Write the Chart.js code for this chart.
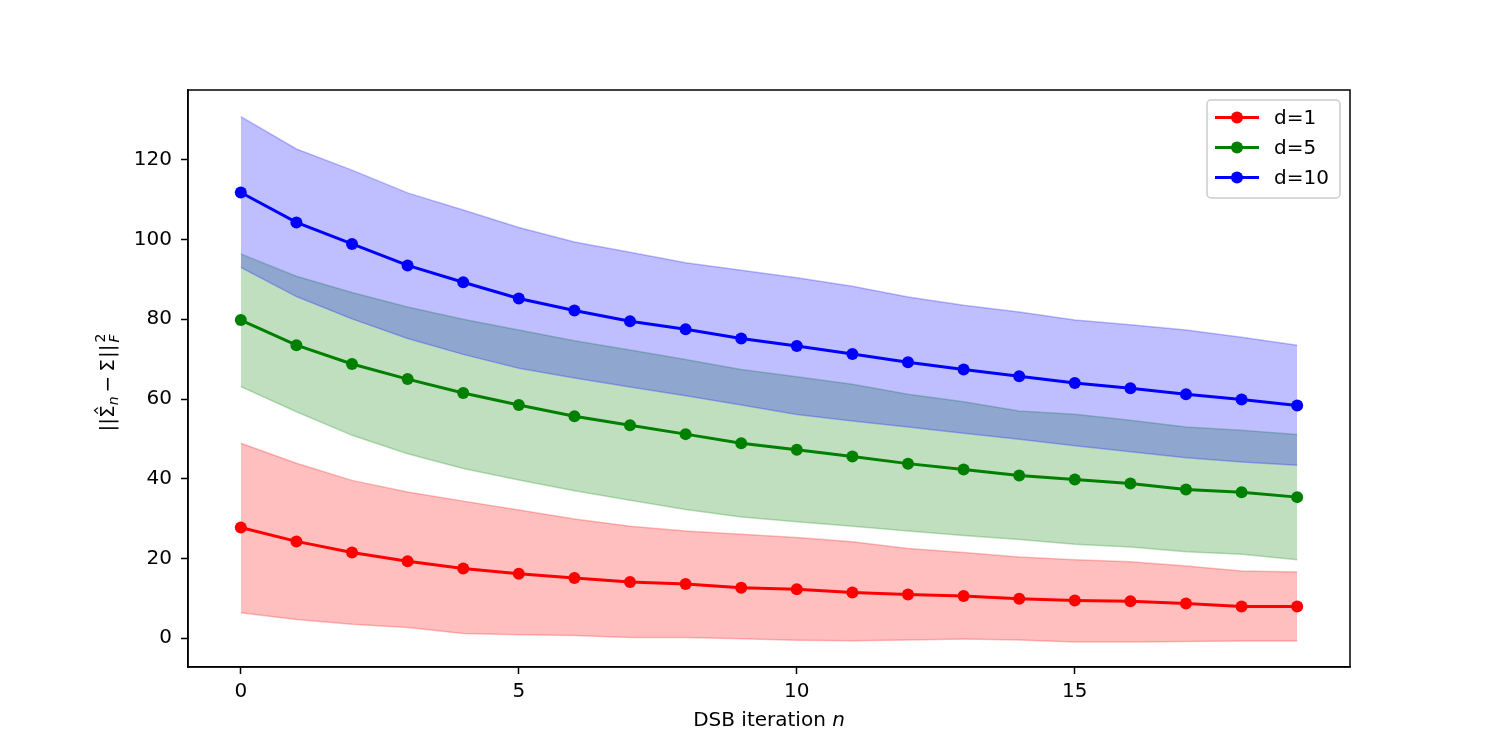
<!DOCTYPE html>
<html lang="en">
<head>
  <meta charset="UTF-8">
  <title>DSB covariance error</title>
  <script src="https://cdn.jsdelivr.net/npm/chart.js"></script>
  <style>
    html, body { margin: 0; padding: 0; background: #fff; }
    #chart { display: block; }
  </style>
</head>
<body>
  <canvas id="chart" width="1500" height="750"></canvas>

  <script>
    // x positions (DSB iterations)
    const iterations = [0, 1, 2, 3, 4, 5, 6, 7, 8, 9, 10, 11, 12, 13, 14, 15, 16, 17, 18, 19];

    // d = 1
    const meanD1  = [27.8, 24.3, 21.5, 19.3, 17.5, 16.2, 15.1, 14.1, 13.6, 12.7, 12.3, 11.5, 11.0, 10.6, 9.9, 9.5, 9.3, 8.7, 8.0, 8.0];
    const upperD1 = [48.9, 43.9, 39.6, 36.7, 34.4, 32.2, 29.9, 28.1, 26.9, 26.1, 25.3, 24.2, 22.5, 21.5, 20.4, 19.7, 19.2, 18.1, 16.9, 16.6];
    const lowerD1 = [6.4, 4.7, 3.5, 2.7, 1.2, 0.9, 0.7, 0.2, 0.2, -0.1, -0.5, -0.6, -0.4, -0.2, -0.4, -0.9, -0.9, -0.8, -0.7, -0.7];

    // d = 5
    const meanD5  = [79.8, 73.5, 68.8, 65.0, 61.5, 58.5, 55.7, 53.4, 51.2, 48.9, 47.3, 45.6, 43.8, 42.3, 40.8, 39.8, 38.8, 37.3, 36.6, 35.4];
    const upperD5 = [96.4, 90.8, 86.7, 83.1, 80.0, 77.3, 74.6, 72.3, 69.9, 67.4, 65.6, 63.7, 61.2, 59.3, 57.0, 56.2, 54.7, 53.0, 52.2, 51.1];
    const lowerD5 = [63.1, 56.8, 50.9, 46.3, 42.6, 39.7, 37.0, 34.6, 32.3, 30.4, 29.2, 28.1, 26.9, 25.8, 24.8, 23.6, 22.9, 21.7, 21.1, 19.7];

    // d = 10
    const meanD10  = [111.8, 104.3, 98.9, 93.5, 89.3, 85.2, 82.2, 79.5, 77.5, 75.2, 73.3, 71.3, 69.2, 67.4, 65.7, 64.0, 62.7, 61.2, 59.9, 58.4];
    const upperD10 = [130.8, 122.7, 117.4, 111.7, 107.4, 103.0, 99.4, 96.8, 94.2, 92.3, 90.4, 88.3, 85.6, 83.5, 81.8, 79.8, 78.6, 77.3, 75.5, 73.5];
    const lowerD10 = [93.0, 85.7, 80.1, 75.2, 71.2, 67.7, 65.3, 63.0, 60.8, 58.5, 56.1, 54.5, 53.0, 51.4, 49.9, 48.3, 46.8, 45.3, 44.2, 43.4];

    const seriesLabels = ['d=1', 'd=5', 'd=10'];
    const xTickValues = [0, 5, 10, 15];
    const yTickValues = [0, 20, 40, 60, 80, 100, 120];

    const FONT = 'DejaVu Sans';
    const colors = { red: '#ff0000', green: '#008000', blue: '#0000ff' };
    const bandFill = { red: 'rgba(255,0,0,0.25)', green: 'rgba(0,128,0,0.25)', blue: 'rgba(0,0,255,0.25)' };

    const pts = ys => iterations.map((x, i) => ({ x: x, y: ys[i] }));

    function lineSet(label, ys, c) {
      return {
        label: label, data: pts(ys), isSeries: true,
        borderColor: c, backgroundColor: c, borderWidth: 3,
        pointRadius: 6, pointBackgroundColor: c, pointBorderWidth: 0,
        fill: false, tension: 0
      };
    }
    function bandSet(ys, fillColor, toNext) {
      return {
        label: '', data: pts(ys),
        borderColor: fillColor, borderWidth: 1.5, backgroundColor: fillColor,
        pointRadius: 0, fill: toNext ? '+1' : false, tension: 0
      };
    }

    // lower index is painted later (on top), so blue band goes over green band
    const datasets = [
      lineSet(seriesLabels[2], meanD10, colors.blue),
      bandSet(upperD10, bandFill.blue, true),
      bandSet(lowerD10, bandFill.blue, false),
      lineSet(seriesLabels[1], meanD5, colors.green),
      bandSet(upperD5, bandFill.green, true),
      bandSet(lowerD5, bandFill.green, false),
      lineSet(seriesLabels[0], meanD1, colors.red),
      bandSet(upperD1, bandFill.red, true),
      bandSet(lowerD1, bandFill.red, false)
    ];

    // top and right spines
    const framePlugin = {
      id: 'frame',
      afterDraw(chart) {
        const { ctx, chartArea: a } = chart;
        ctx.save();
        ctx.strokeStyle = '#000';
        ctx.lineWidth = 1.5;
        ctx.strokeRect(a.left, a.top, a.right - a.left, a.bottom - a.top);
        ctx.restore();
      }
    };

    // axis titles with math-style pieces
    const labelsPlugin = {
      id: 'axisLabels',
      afterDraw(chart) {
        const { ctx, chartArea: a } = chart;
        ctx.save();
        ctx.fillStyle = '#000';
        ctx.textBaseline = 'alphabetic';

        // x label: "DSB iteration n"
        const main = '20px "' + FONT + '"';
        const ital = 'italic 20px "' + FONT + '"';
        ctx.font = main;
        const w1 = ctx.measureText('DSB iteration ').width;
        ctx.font = ital;
        const w2 = ctx.measureText('n').width;
        let x0 = (a.left + a.right) / 2 - (w1 + w2) / 2;
        ctx.font = main;
        ctx.fillText('DSB iteration ', x0, 726);
        ctx.font = ital;
        ctx.fillText('n', x0 + w1, 726);

        // y label: ||Σ̂_n − Σ||²_F, rotated
        const small = '14px "' + FONT + '"';
        const smallIt = 'italic 14px "' + FONT + '"';
        const pieces = [
          { t: '||', f: main, dy: 0, gap: 0 },
          { t: 'Σ', f: main, dy: 0, gap: 0, hat: true },
          { t: 'n', f: smallIt, dy: 4, gap: 4 },
          { t: '−', f: main, dy: 0, gap: 4 },
          { t: 'Σ', f: main, dy: 0, gap: 1 },
          { t: '||', f: main, dy: 0, gap: 2 },
          { t: '2', f: small, dy: -9, gap: 0, stack: 'F' }
        ];
        let total = 0;
        pieces.forEach(p => {
          ctx.font = p.f;
          p.w = ctx.measureText(p.t).width;
          if (p.stack) {
            ctx.font = smallIt;
            p.w = Math.max(p.w, ctx.measureText(p.stack).width);
          }
          total += p.w + p.gap;
        });
        ctx.translate(114, (a.top + a.bottom) / 2 + 4);
        ctx.rotate(-Math.PI / 2);
        let x = -total / 2;
        pieces.forEach(p => {
          ctx.font = p.f;
          ctx.fillText(p.t, x, p.dy);
          if (p.hat) {
            ctx.beginPath();
            ctx.lineWidth = 1.2;
            ctx.strokeStyle = '#000';
            const cx = x + p.w / 2 + 1;
            ctx.moveTo(cx - 3, -16);
            ctx.lineTo(cx, -19.5);
            ctx.lineTo(cx + 3, -16);
            ctx.stroke();
          }
          if (p.stack) {
            ctx.font = smallIt;
            ctx.fillText(p.stack, x, 5);
          }
          x += p.w + p.gap;
        });
        ctx.restore();
      }
    };

    // matplotlib style legend: line + marker handles
    const legendPlugin = {
      id: 'mplLegend',
      afterDraw(chart) {
        const { ctx } = chart;
        const series = chart.data.datasets.filter(d => d.isSeries).reverse();
        const bx = 1207, by = 100, bw = 133, bh = 98, r = 4;
        ctx.save();
        ctx.beginPath();
        ctx.roundRect(bx, by, bw, bh, r);
        ctx.fillStyle = 'rgba(255,255,255,0.8)';
        ctx.fill();
        ctx.strokeStyle = '#cccccc';
        ctx.lineWidth = 1.5;
        ctx.stroke();
        ctx.font = '20px "' + FONT + '"';
        ctx.textBaseline = 'middle';
        series.forEach((d, i) => {
          const y = 117.5 + i * 30;
          ctx.strokeStyle = d.borderColor;
          ctx.lineWidth = 3;
          ctx.beginPath();
          ctx.moveTo(1215, y);
          ctx.lineTo(1259, y);
          ctx.stroke();
          ctx.fillStyle = d.borderColor;
          ctx.beginPath();
          ctx.arc(1237, y, 6, 0, Math.PI * 2);
          ctx.fill();
          ctx.fillStyle = '#000';
          ctx.fillText(d.label, 1274, y + 1);
        });
        ctx.restore();
      }
    };

    new Chart(document.getElementById('chart'), {
      type: 'line',
      data: { datasets: datasets },
      options: {
        responsive: false,
        devicePixelRatio: 1,
        animation: false,
        events: [],
        layout: { padding: { top: 90, right: 150, bottom: 0, left: 0 } },
        plugins: {
          legend: { display: false },
          tooltip: { enabled: false },
          filler: { propagate: false }
        },
        scales: {
          x: {
            type: 'linear',
            min: -0.95,
            max: 19.95,
            afterFit: s => { s.height = 83; },
            afterBuildTicks: s => { s.ticks = xTickValues.map(v => ({ value: v })); },
            grid: { display: true, drawOnChartArea: false, drawTicks: true, tickLength: 7, tickWidth: 1.5, tickColor: '#000' },
            border: { display: true, color: '#000', width: 1.5 },
            ticks: { color: '#000', padding: 6, maxRotation: 0, font: { family: FONT, size: 20 } }
          },
          y: {
            type: 'linear',
            min: -7.2,
            max: 137.5,
            afterFit: s => { s.width = 188; },
            afterBuildTicks: s => { s.ticks = yTickValues.map(v => ({ value: v })); },
            grid: { display: true, drawOnChartArea: false, drawTicks: true, tickLength: 7, tickWidth: 1.5, tickColor: '#000' },
            border: { display: true, color: '#000', width: 1.5 },
            ticks: { color: '#000', padding: 9, font: { family: FONT, size: 20 } }
          }
        }
      },
      plugins: [framePlugin, labelsPlugin, legendPlugin]
    });
  </script>
</body>
</html>
